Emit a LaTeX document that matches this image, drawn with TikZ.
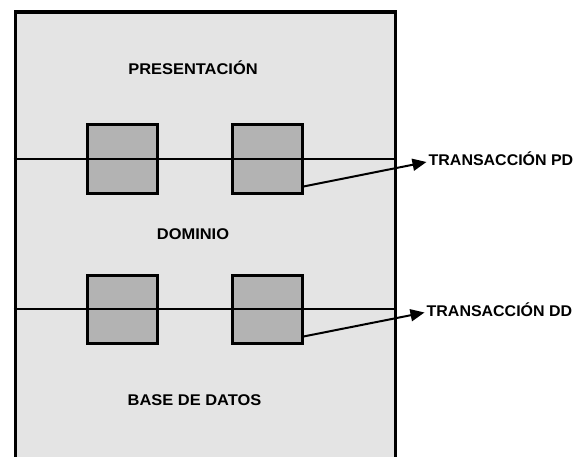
\documentclass[tikz,border=0pt]{standalone}
\usepackage{fontspec}
\setmainfont{Liberation Sans}
\usetikzlibrary{arrows.meta,calc}
\definecolor{layerbg}{HTML}{E4E4E4}
\definecolor{portfill}{HTML}{B3B3B3}
\tikzset{
  frame/.style={draw=black, line width=3.2pt, fill=layerbg},
  port/.style={draw=black, line width=3pt, fill=portfill, minimum width=70pt, minimum height=68pt, inner sep=0pt},
  bus/.style={draw=black, line width=2.3pt},
  link/.style={draw=black, line width=2pt, -{Triangle[length=14pt, width=12pt]}},
  layer/.style={font=\fontsize{15.5}{17}\selectfont\bfseries, xscale=1.06, inner sep=0pt},
  txlabel/.style={font=\fontsize{15.5}{17}\selectfont\bfseries, xscale=1.03, inner sep=0pt, anchor=west}
}
\begin{document}
\begin{tikzpicture}[x=1pt, y=-1pt]
  \useasboundingbox (0,0) rectangle (575,457);
  \fill[white] (0,0) rectangle (575,457);
  % outer frame holding the three layers (runs off the bottom edge)
  \node[frame, minimum width=380pt, minimum height=480pt, anchor=north west, inner sep=0pt] (stack) at (13.5,10.5) {};
  % layer names
  \node[layer] (pres) at (193,68) {PRESENTACIÓN};
  \node[layer] (dom) at (193,234) {DOMINIO};
  \node[layer] (bd) at (194.5,400) {BASE DE DATOS};
  % interface boxes
  \node[port] (p1) at (122,159) {};
  \node[port] (p2) at (267,159) {};
  \node[port] (d1) at (122,309) {};
  \node[port] (d2) at (267,309) {};
  % boundaries between layers
  \draw[bus] (stack.west |- p1) -- (stack.east |- p1);
  \draw[bus] (stack.west |- d1) -- (stack.east |- d1);
  % transaction labels
  \node[txlabel] (tpd) at (428.5,159) {TRANSACCIÓN PD};
  \node[txlabel] (tdd) at (426.5,309.5) {TRANSACCIÓN DD};
  \coordinate (ppd) at ($(p2.south east)+(0,-8)$);
  \coordinate (pdd) at ($(d2.south east)+(0,-8)$);
  \draw[link] (ppd) -- ($(tpd.west)+(-2,3)$);
  \draw[link] (pdd) -- ($(tdd.west)+(-2,3)$);
\end{tikzpicture}
\end{document}
